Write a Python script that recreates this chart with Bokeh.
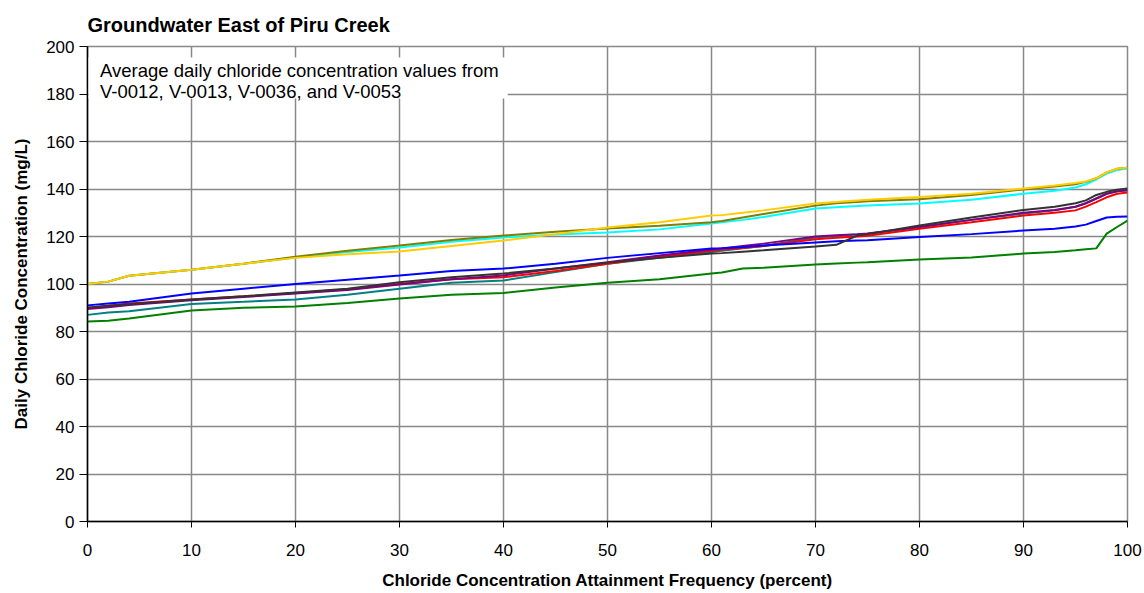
from bokeh.plotting import figure
from bokeh.models import Range1d, FixedTicker, BoxAnnotation, Label
from bokeh.embed import file_html
from bokeh.resources import INLINE

# ---- data ----
pct = [0, 2, 4, 10, 15, 20, 25, 30, 35, 40, 45, 50, 55, 60, 61, 63, 65, 70,
       72, 74, 75, 80, 85, 90, 93, 95, 96, 97, 98, 99, 100]

green = [84.2, 84.5, 85.5, 88.8, 90.0, 90.5, 92.0, 93.9, 95.5, 96.2, 98.5, 100.5, 102.0, 104.4, 104.8, 106.5,
         106.8, 108.2, 108.6, 109.0, 109.2, 110.3, 111.2, 112.8, 113.5, 114.2, 114.6, 115.0, 121.2, 124.0, 126.7]
teal = [87.0, 88.0, 88.5, 91.6, 92.5, 93.5, 95.5, 98.0, 100.5, 101.5, 105.0, 108.5, 111.0, 113.5, 114.0, 115.0,
        116.0, 119.6, 120.2, 120.8, 121.2, 124.0, 127.0, 129.7, 131.0, 132.5, 134.0, 136.0, 138.0, 139.0, 139.5]
purple = [89.5, 90.2, 91.2, 93.2, 94.5, 96.0, 97.5, 99.8, 102.0, 103.6, 106.5, 109.2, 112.0, 114.5, 115.0, 116.0,
          117.0, 120.0, 120.5, 121.0, 121.3, 124.0, 127.0, 130.0, 131.2, 132.5, 134.0, 136.0, 138.0, 139.0, 139.5]
red = [90.0, 90.8, 91.8, 93.5, 94.8, 96.2, 97.8, 100.0, 102.0, 102.8, 105.5, 108.5, 111.5, 114.0, 114.4, 115.2,
       116.0, 118.8, 119.5, 120.0, 120.3, 123.3, 126.0, 128.8, 130.0, 131.0, 132.6, 134.5, 136.5, 138.0, 138.5]
blue = [91.0, 91.8, 92.5, 96.0, 98.0, 100.0, 101.8, 103.6, 105.5, 106.5, 108.5, 111.0, 113.0, 114.9, 115.1, 115.6,
        116.2, 117.5, 118.0, 118.3, 118.4, 119.8, 121.0, 122.5, 123.3, 124.2, 125.0, 126.5, 128.0, 128.3, 128.4]
darkgray = [90.0, 90.8, 91.5, 93.5, 94.8, 96.4, 98.0, 100.7, 102.8, 104.4, 106.5, 109.0, 111.0, 112.8, 113.0, 113.6,
            114.2, 115.8, 116.5, 120.4, 121.0, 124.6, 128.0, 131.2, 132.5, 134.0, 135.2, 137.5, 138.8, 139.7, 140.2]
cyan = [100.0, 101.0, 103.5, 106.0, 108.5, 111.2, 113.5, 115.4, 117.8, 119.6, 120.8, 121.7, 123.0, 125.5, 126.0, 127.0,
        128.2, 131.8, 132.3, 132.8, 133.1, 133.9, 135.5, 138.0, 139.3, 140.6, 142.0, 144.0, 146.5, 148.0, 148.6]
olive = [100.0, 101.0, 103.5, 106.0, 108.5, 111.5, 114.0, 116.2, 118.5, 120.4, 122.0, 123.4, 124.5, 126.0, 126.5, 128.0,
         129.5, 133.0, 134.0, 134.5, 134.8, 135.7, 137.5, 139.8, 141.0, 142.0, 143.0, 144.5, 147.0, 148.5, 149.0]
gold = [100.0, 101.0, 103.5, 106.0, 108.5, 111.0, 112.5, 113.7, 116.0, 118.3, 121.0, 123.8, 126.0, 128.8, 129.0, 130.0,
        131.0, 133.9, 134.5, 135.2, 135.5, 136.6, 138.0, 140.2, 141.5, 142.5, 143.2, 144.5, 147.0, 148.5, 149.0]

series = [
    (green, "#008000"),
    (teal, "#008080"),
    (red, "#FF0000"),
    (purple, "#800080"),
    (blue, "#0000FF"),
    (darkgray, "#333333"),
    (cyan, "#00FFFF"),
    (olive, "#808000"),
    (gold, "#FFCC00"),
]

x_ticks = [0, 10, 20, 30, 40, 50, 60, 70, 80, 90, 100]
y_ticks = [0, 20, 40, 60, 80, 100, 120, 140, 160, 180, 200]

title_text = "Groundwater East of Piru Creek"
x_label = "Chloride Concentration Attainment Frequency (percent)"
y_label = "Daily Chloride Concentration (mg/L)"
note_lines = ["Average daily chloride concentration values from",
              "V-0012, V-0013, V-0036, and V-0053"]

FONT = "Liberation Sans"

p = figure(width=1144, height=593, output_backend="svg", toolbar_location=None,
           x_range=Range1d(0, 100), y_range=Range1d(0, 200),
           min_border_left=87, min_border_right=17, min_border_top=46, min_border_bottom=72)

p.title.text = title_text
p.title.text_font = FONT
p.title.text_font_size = "20px"
p.title.text_font_style = "bold"
p.title.text_color = "black"
p.title.align = "left"
p.title.standoff = 22

p.xaxis.ticker = FixedTicker(ticks=x_ticks)
p.yaxis.ticker = FixedTicker(ticks=y_ticks)
for ax in (p.xaxis, p.yaxis):
    ax.major_label_text_font = FONT
    ax.major_label_text_font_size = "17px"
    ax.major_label_text_color = "black"
    ax.axis_label_text_font = FONT
    ax.axis_label_text_font_size = "17px"
    ax.axis_label_text_font_style = "bold"
    ax.axis_label_text_color = "black"
    ax.axis_line_color = "black"
    ax.axis_line_width = 1.5
    ax.major_tick_line_color = "black"
    ax.major_tick_in = 0
    ax.minor_tick_line_color = None

p.xaxis.axis_label = x_label
p.yaxis.axis_label = y_label
p.xaxis.major_tick_out = 6
p.yaxis.major_tick_out = 8
p.xaxis.major_label_standoff = 16
p.yaxis.major_label_standoff = 5
p.xaxis.axis_label_standoff = 12
p.yaxis.axis_label_standoff = 12

p.grid.grid_line_color = "#888888"
p.grid.grid_line_width = 1.5
p.outline_line_color = "#888888"
p.outline_line_width = 1.5
p.background_fill_color = "white"
p.border_fill_color = "white"

for ys, col in series:
    p.line(pct, ys, line_color=col, line_width=2)

p.add_layout(BoxAnnotation(left=0.1, right=40.4, top=195.4, bottom=178.1,
                           fill_color="white", fill_alpha=1.0, line_color=None))
for txt, yy in zip(note_lines, [190.1, 181.0]):
    p.add_layout(Label(x=1.2, y=yy, text=txt, text_font=FONT, text_font_size="18.5px",
                       text_baseline="middle", text_align="left", text_color="black"))

open("out.html", "w").write(file_html(p, INLINE))
